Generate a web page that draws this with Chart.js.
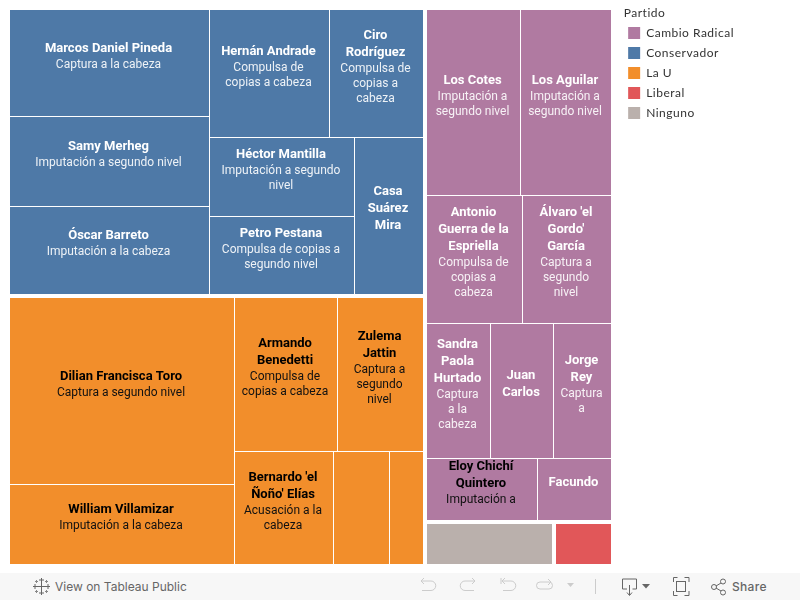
<!DOCTYPE html>
<html lang="es">
<head>
<meta charset="UTF-8">
<title>Partido</title>
<script src="https://cdn.jsdelivr.net/npm/chart.js"></script>
<style>
  html, body { margin: 0; padding: 0; background: #fff; width: 800px; height: 600px; overflow: hidden; }
  #chart { position: absolute; left: 0; top: 0; }
  #footer { position: absolute; left: 0; top: 573px; width: 800px; height: 27px; background: #f7f7f7;
            font-family: Inter, "Liberation Sans", sans-serif; font-size: 12px; color: #666; }
  #footer svg { position: absolute; left: 0; top: 0; }
  #footer span { position: absolute; top: 6px; line-height: 15px; }
</style>
</head>
<body>
<canvas id="chart" width="800" height="573"></canvas>
<div id="footer">
  <svg width="800" height="27" fill="none" stroke="#999" stroke-width="1">
    <!-- tableau logo, a bunch of small plus signs -->
    <g stroke="#666">
      <path d="M41.500 9v9M37 13.500h9"/>
      <path d="M41.500 5v5M39 7h5M41.500 17v5M39 20h5M35 11v5M33 13.500h5M48 11v5M45 13.500h5"/>
      <path d="M36.500 7v3M35 8.500h3M46.500 7v3M45 8.500h3M36.500 17v3M35 18.500h3M46.500 17v3M45 18.500h3" stroke="#888"/>
    </g>
    <g stroke="#ccc">
      <path d="M421 8h10a4.5 4.5 0 0 1 0 9.500h-9M421 8l3-3M421 8l3 3"/>
      <path d="M475 8h-10a4.5 4.5 0 0 0 0 9.500h9M475 8l-3-3M475 8l-3 3"/>
      <path d="M501 5v6M502 8h9a4.5 4.5 0 0 1 0 9.500h-8M502 8l3-3M502 8l3 3"/>
      <path d="M541 9h8a3.5 3.5 0 0 1 0 7h-9a3.5 3.5 0 0 1 0-7h1M548 6l3 3-3 3"/>
      <path d="M595.500 6v15"/>
    </g>
    <path d="M567 10h7l-3.500 4z" fill="#ccc" stroke="none"/>
    <g stroke="#666">
      <path d="M627 16h-4.500v-10h14v10h-4M629.500 12v10M627 19.500l2.500 3 2.500-3"/>
      <path d="M673.500 9v-4.500h4M684.500 4.500h4.500V9M689 18v4.500h-4.500M677.500 22.500h-4V18"/>
      <rect x="676.500" y="8.500" width="9" height="10"/>
      <circle cx="714" cy="14" r="2.500"/><circle cx="723" cy="8.500" r="2.500"/><circle cx="723" cy="19.500" r="2.500"/>
      <path d="M716 13l5-3M716 15l5 3"/>
    </g>
    <path d="M642 11h8l-4 4.500z" fill="#666" stroke="none"/>
  </svg>
  <span style="left:55px">View on Tableau Public</span>
  <span style="left:732px;font-weight:500;letter-spacing:0.3px">Share</span>
</div>
<script>
const partyNames = ['Cambio Radical', 'Conservador', 'La U', 'Liberal', 'Ninguno'];
const partyColors = ['#b07aa1', '#4e79a7', '#f28e2b', '#e15759', '#bab0ac'];

// one entry per cell, lines broken as in the picture (tableau hides what doesn't fit)
const cellNames = [
  ['Marcos Daniel Pineda'], ['Samy Merheg'], ['Óscar Barreto'], ['Hernán Andrade'], ['Ciro', 'Rodríguez'],
  ['Héctor Mantilla'], ['Petro Pestana'], ['Casa', 'Suárez', 'Mira'],
  ['Dilian Francisca Toro'], ['William Villamizar'], ['Armando', 'Benedetti'], ['Zulema', 'Jattin'],
  ["Bernardo 'el", "Ñoño' Elías"], [], [],
  ['Los Cotes'], ['Los Aguilar'], ['Antonio', 'Guerra de la', 'Espriella'], ["Álvaro 'el", "Gordo'", 'García'],
  ['Sandra', 'Paola', 'Hurtado'], ['Juan', 'Carlos'], ['Jorge', 'Rey'], ['Eloy Chichí', 'Quintero'], ['Facundo'],
  [], []
];
const cellCharges = [
  ['Captura a la cabeza'], ['Imputación a segundo nivel'], ['Imputación a la cabeza'], ['Compulsa de', 'copias a cabeza'],
  ['Compulsa de', 'copias a', 'cabeza'], ['Imputación a segundo', 'nivel'], ['Compulsa de copias a', 'segundo nivel'], [],
  ['Captura a segundo nivel'], ['Imputación a la cabeza'], ['Compulsa de', 'copias a cabeza'], ['Captura a', 'segundo', 'nivel'],
  ['Acusación a la', 'cabeza'], [], [],
  ['Imputación a', 'segundo nivel'], ['Imputación a', 'segundo nivel'], ['Compulsa de', 'copias a', 'cabeza'], ['Captura a', 'segundo', 'nivel'],
  ['Captura', 'a la', 'cabeza'], [], ['Captura', 'a'], ['Imputación a'], [],
  [], []
];
const cellParty = [1, 1, 1, 1, 1, 1, 1, 1, 2, 2, 2, 2, 2, 2, 2, 0, 0, 0, 0, 0, 0, 0, 0, 0, 4, 3];
const cellValues = [
  212.5, 179.6, 174.6, 153, 119.9, 114.6, 112.4, 108,
  418.7, 178.5, 158.1, 132, 112.1, 62.9, 37.7,
  174, 168.4, 122, 113.1, 85.8, 84.5, 77.7, 67.9, 45,
  51.4, 22.6
];
const blackLabelCells = [22];

const cols = (gap, ...kids) => ({ dir: 'x', gap, kids });
const rows = (gap, ...kids) => ({ dir: 'y', gap, kids });

// how tableau nested the rectangles, leaves are indexes into the lists above
const tree = cols(4,
  rows(4,
    cols(1, rows(1, 0, 1, 2), rows(1, cols(1, 3, 4), cols(1, rows(1, 5, 6), 7))),
    cols(1, rows(1, 8, 9), rows(1, cols(1, 10, 11), cols(1, 12, 13, 14)))),
  rows(4,
    rows(1, cols(1, 15, 16), cols(1, 17, 18), cols(1, 19, 20, 21), cols(1, 22, 23)),
    cols(4, 24, 25)));

const sumNode = n => typeof n === 'number' ? cellValues[n] : n.kids.reduce((s, k) => s + sumNode(k), 0);

function layoutNode(node, box, out) {
  if (typeof node === 'number') { out[node] = box; return out; }
  const a = node.dir;
  const room = box[a + '1'] - box[a + '0'] - node.gap * (node.kids.length - 1);
  const total = sumNode(node);
  let pos = box[a + '0'];
  node.kids.forEach(kid => {
    const size = room * sumNode(kid) / total;
    layoutNode(kid, { ...box, [a + '0']: pos, [a + '1']: pos + size }, out);
    pos += size + node.gap;
  });
  return out;
}

const cells = layoutNode(tree, { x0: 0, x1: 601, y0: 0, y1: 554 }, []);

class TreemapController extends Chart.DatasetController {
  update(mode) {
    this.updateElements(this._cachedMeta.data, 0, this._cachedMeta.data.length, mode);
  }
  updateElements(rects, start, count, mode) {
    const { xScale, yScale } = this._cachedMeta;
    for (let i = start; i < start + count; i++) {
      const c = this.getDataset().data[i];
      const left = Math.round(xScale.getPixelForValue(c.x0));
      const right = Math.round(xScale.getPixelForValue(c.x1));
      const top = Math.round(yScale.getPixelForValue(c.y0));
      const bottom = Math.round(yScale.getPixelForValue(c.y1));
      this.updateElement(rects[i], i, {
        x: (left + right) / 2, width: right - left, y: top, base: bottom, height: bottom - top,
        horizontal: false, borderSkipped: {}, enableBorderRadius: false, inflateAmount: 0,
        options: this.resolveDataElementOptions(i, mode)
      }, mode);
    }
  }
}
TreemapController.id = 'treemap';
TreemapController.defaults = { dataElementType: 'bar' };
Chart.register(TreemapController);

const NAME_LINE = 17, CHARGE_LINE = 15;

const cellLabels = {
  id: 'cellLabels',
  beforeDraw(chart) {
    // legend text in the reference is spaced out a bit
    chart.ctx.letterSpacing = '0.5px';
  },
  afterDatasetsDraw(chart) {
    const ctx = chart.ctx;
    ctx.save();
    ctx.letterSpacing = '0px';
    ctx.textAlign = 'center';
    ctx.textBaseline = 'middle';
    chart.getDatasetMeta(0).data.forEach((el, i) => {
      const names = cellNames[i], charges = cellCharges[i];
      const black = cellParty[i] === 2 || blackLabelCells.includes(i);
      // there is a hidden extra line in the block, so the text sits above the middle
      const blockH = names.length * NAME_LINE + charges.length * CHARGE_LINE + CHARGE_LINE;
      let y = Math.ceil((el.y + el.base) / 2 - blockH / 2);
      const x = el.x - 1;
      ctx.font = 'bold 13px Roboto';
      ctx.fillStyle = black ? '#000' : '#fff';
      names.forEach(line => { ctx.fillText(line, x, y + NAME_LINE / 2); y += NAME_LINE; });
      ctx.font = '12px Roboto';
      ctx.fillStyle = black ? '#111' : 'rgba(255,255,255,0.9)';
      charges.forEach(line => { ctx.fillText(line, x, y + CHARGE_LINE / 2); y += CHARGE_LINE; });
    });
    ctx.restore();
  }
};

new Chart(document.getElementById('chart'), {
  type: 'treemap',
  data: {
    datasets: [{
      data: cells,
      parsing: false,
      backgroundColor: cellParty.map(p => partyColors[p]),
      borderWidth: 0
    }]
  },
  options: {
    responsive: false,
    animation: false,
    layout: { padding: { left: 10, top: 6, right: 63, bottom: 9 } },
    scales: {
      x: { type: 'linear', min: 0, max: 610, display: false },
      y: { type: 'linear', min: -4, max: 554, reverse: true, display: false }
    },
    plugins: {
      tooltip: { enabled: false },
      legend: {
        position: 'right',
        align: 'start',
        title: {
          display: true,
          text: '\u00a0Partido',
          position: 'start',
          color: '#333',
          font: { family: 'Lato', size: 12 },
          padding: { top: 1.5, bottom: -2.9 }
        },
        labels: {
          boxWidth: 12,
          boxHeight: 12,
          padding: 8,
          color: '#555',
          font: { family: 'Lato', size: 12 },
          generateLabels: () => partyNames.map((name, i) => ({
            text: name, fillStyle: partyColors[i], strokeStyle: partyColors[i], lineWidth: 0, hidden: false, datasetIndex: 0
          }))
        }
      }
    }
  },
  plugins: [cellLabels]
});
</script>
</body>
</html>
